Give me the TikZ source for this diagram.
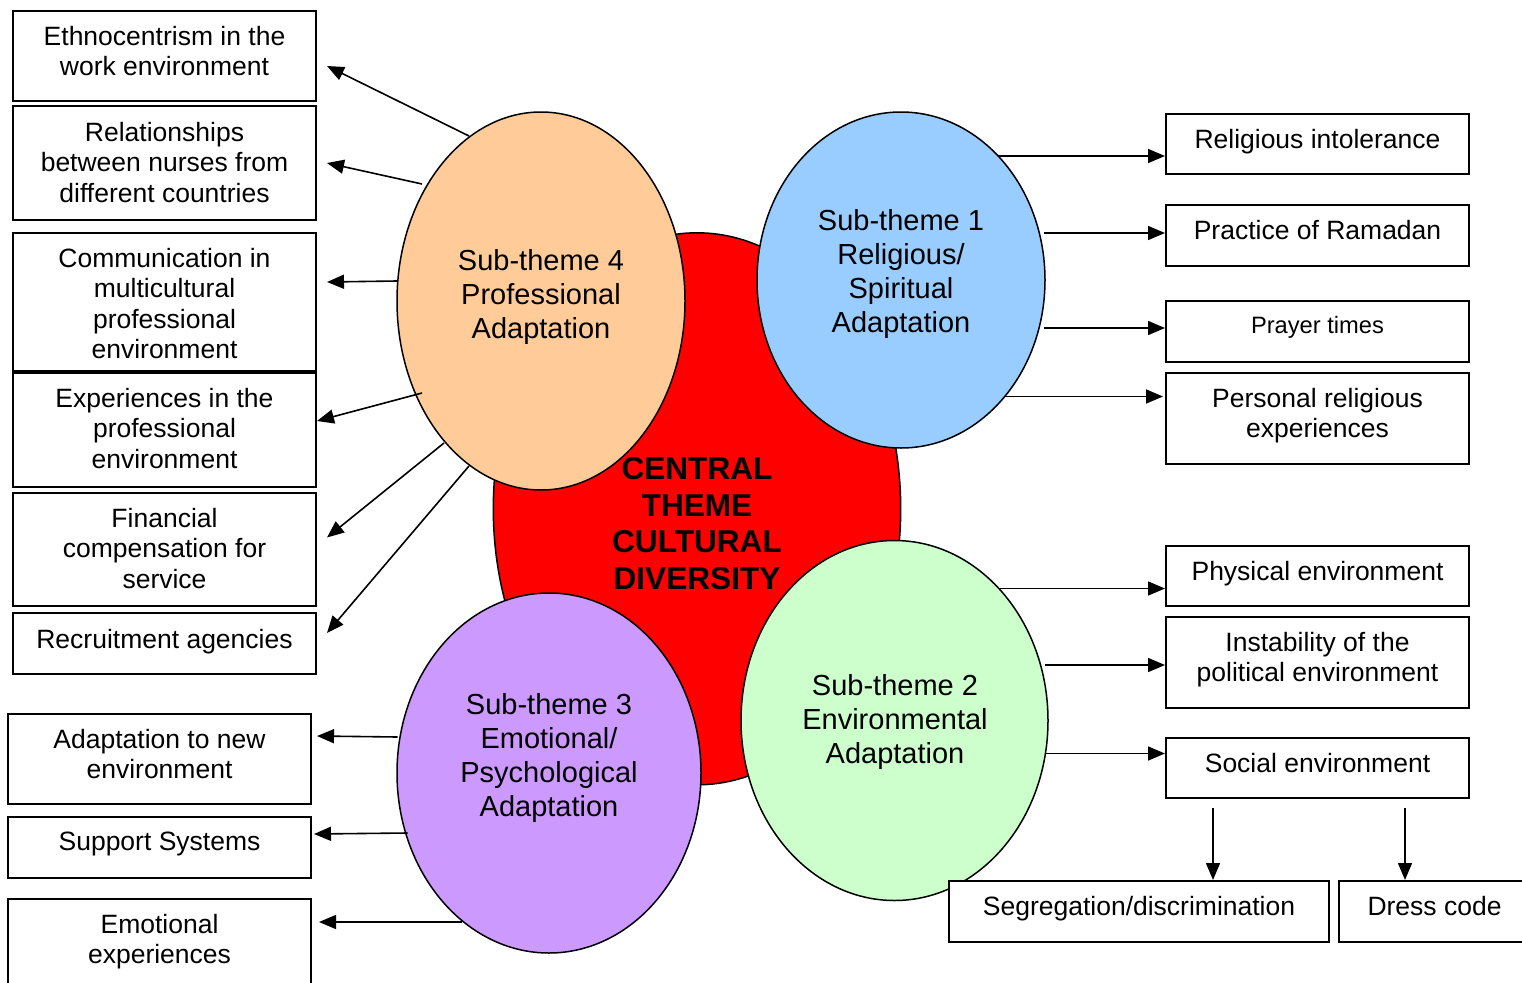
\documentclass[tikz,border=0pt]{standalone}
\usepackage{fontspec}
\setmainfont{Liberation Sans}
\usetikzlibrary{shapes.geometric,arrows.meta,calc}
\definecolor{cred}{HTML}{FF0000}
\definecolor{corange}{HTML}{FFCC99}
\definecolor{cblue}{HTML}{99CCFF}
\definecolor{cpurple}{HTML}{CC99FF}
\definecolor{cgreen}{HTML}{CCFFCC}
\tikzset{
  oval/.style={ellipse, draw=black, line width=1.5pt, inner sep=0pt},
  boxst/.style={draw=black, line width=2pt, fill=white, rectangle, inner sep=0pt, anchor=north west},
  boxtxt/.style={anchor=north, inner sep=0pt, align=center, font=\fontsize{26.5}{30.4}\selectfont},
  subtxt/.style={anchor=north, inner sep=0pt, align=center, font=\fontsize{29}{34}\selectfont},
  arr/.style={line width=1.6pt, -{Triangle[length=17pt,width=14pt]}}
}
\begin{document}
\begin{tikzpicture}[x=1pt,y=-1pt]
\useasboundingbox (0,0) rectangle (1522,982);
\clip (0,0) rectangle (1522,982);
% ellipses
\node[oval, fill=cred, minimum width=407.4pt, minimum height=552pt] (ct) at (697,508.8) {};
\node[oval, fill=corange, minimum width=288pt, minimum height=378pt] (e4) at (541,301) {};
\node[oval, fill=cblue, minimum width=288pt, minimum height=336pt] (e1) at (901,280) {};
\node[oval, fill=cpurple, minimum width=304pt, minimum height=360pt] (e3) at (549,773) {};
\node[oval, fill=cgreen, minimum width=307pt, minimum height=360pt] (e2) at (894.5,720.5) {};
% ellipse texts
\node[subtxt] (t4) at (541,249) {Sub-theme 4\\Professional\\Adaptation};
\node[subtxt] (t1) at (901,209) {Sub-theme 1\\Religious/\\Spiritual\\Adaptation};
\node[subtxt] (t3) at (549,693) {Sub-theme 3\\Emotional/\\Psychological\\Adaptation};
\node[subtxt] (t2) at (895,674) {Sub-theme 2\\Environmental\\Adaptation};
\node[anchor=north, inner sep=0pt, align=center, font=\fontsize{31.6}{36.7}\selectfont\bfseries] (tc) at (697,457.3) {CENTRAL\\THEME\\CULTURAL\\DIVERSITY};
% left boxes
\node[boxst, minimum width=303pt, minimum height=90pt] (b1) at (12,10) {};
\node[boxst, minimum width=303pt, minimum height=114pt] (b2) at (12,105) {};
\node[boxst, minimum width=303pt, minimum height=138pt] (b3) at (12,232) {};
\node[boxst, minimum width=303pt, minimum height=114pt] (b4) at (12,372) {};
\node[boxst, minimum width=303pt, minimum height=113pt] (b5) at (12,492) {};
\node[boxst, minimum width=303pt, minimum height=61pt] (b6) at (12,612) {};
\node[boxst, minimum width=303pt, minimum height=90pt] (b7) at (7,713) {};
\node[boxst, minimum width=303pt, minimum height=61pt] (b8) at (7,816) {};
\node[boxst, minimum width=303pt, minimum height=110pt] (b9) at (7,898) {};
\node[boxtxt] at ($(b1.north)+(0,16)$) {Ethnocentrism in the\\work environment};
\node[boxtxt] at ($(b2.north)+(0,17)$) {Relationships\\between nurses from\\different countries};
\node[boxtxt] at ($(b3.north)+(0,16)$) {Communication in\\multicultural\\professional\\environment};
\node[boxtxt] at ($(b4.north)+(0,16)$) {Experiences in the\\professional\\environment};
\node[boxtxt] at ($(b5.north)+(0,16)$) {Financial\\compensation for\\service};
\node[boxtxt] at ($(b6.north)+(0,17)$) {Recruitment agencies};
\node[boxtxt] at ($(b7.north)+(0,16)$) {Adaptation to new\\environment};
\node[boxtxt] at ($(b8.north)+(0,16)$) {Support Systems};
\node[boxtxt] at ($(b9.north)+(0,16)$) {Emotional\\experiences};
% right boxes
\node[boxst, minimum width=303pt, minimum height=60pt] (r1) at (1165,113) {};
\node[boxst, minimum width=303pt, minimum height=61pt] (r2) at (1165,204) {};
\node[boxst, minimum width=303pt, minimum height=61pt] (r3) at (1165,300) {};
\node[boxst, minimum width=303pt, minimum height=91pt] (r4) at (1165,372) {};
\node[boxst, minimum width=303pt, minimum height=60pt] (g1) at (1165,545) {};
\node[boxst, minimum width=303pt, minimum height=91pt] (g2) at (1165,616) {};
\node[boxst, minimum width=303pt, minimum height=60pt] (g3) at (1165,737) {};
\node[boxst, minimum width=380pt, minimum height=61pt] (s1) at (948,880) {};
\node[boxst, minimum width=191pt, minimum height=61pt] (s2) at (1338,880) {};
\node[boxtxt] at ($(r1.north)+(0,16)$) {Religious intolerance};
\node[boxtxt] at ($(r2.north)+(0,16)$) {Practice of Ramadan};
\node[boxtxt, font=\fontsize{23.7}{28}\selectfont] at ($(r3.north)+(0,16)$) {Prayer times};
\node[boxtxt] at ($(r4.north)+(0,16)$) {Personal religious\\experiences};
\node[boxtxt] at ($(g1.north)+(0,16)$) {Physical environment};
\node[boxtxt] at ($(g2.north)+(0,16)$) {Instability of the\\political environment};
\node[boxtxt] at ($(g3.north)+(0,16)$) {Social environment};
\node[boxtxt] at ($(s1.north)+(0,16)$) {Segregation/discrimination};
\node[boxtxt] at ($(s2.north)+(0,16)$) {Dress code};
% arrow start coordinates
\coordinate (p1) at (469,136);
\coordinate (p2) at (422,184);
\coordinate (p3) at (397,281);
\coordinate (p4) at (422,393);
\coordinate (p5) at (444,443);
\coordinate (p6) at (469,466);
\coordinate (q1) at (397.5,737);
\coordinate (q2) at (407.5,833);
\coordinate (q3) at (462,922);
\coordinate (u1) at (998,156);
\coordinate (u2) at (1044,233);
\coordinate (u3) at (1044,328);
\coordinate (u4) at (1004,396.5);
\coordinate (v1) at (998,588.5);
\coordinate (v2) at (1045,665);
\coordinate (v3) at (1045,753.5);
\coordinate (w1) at (1213,808);
\coordinate (w2) at (1405,808);
% arrows
\draw[arr] (p1) -- ($(b1.east)+(10,10)$);
\draw[arr] (p2) -- ($(b2.east)+(10,0)$);
\draw[arr] (p3) -- ($(b3.east)+(10,-20)$);
\draw[arr] (p4) -- ($(b4.east)+(0,-9)$);
\draw[arr] (p5) -- ($(b5.east)+(10,-12)$);
\draw[arr] (p6) -- ($(b6.east)+(10,-10.5)$);
\draw[arr] (q1) -- ($(b7.east)+(5,-23)$);
\draw[arr] (q2) -- ($(b8.east)+(2,-13.5)$);
\draw[arr] (q3) -- ($(b9.north east)+(7,24)$);
\draw[arr] (u1) -- (u1 -| r1.west);
\draw[arr] (u2) -- (u2 -| r2.west);
\draw[arr] (u3) -- (u3 -| r3.west);
\draw[arr] (u4) -- ($(u4 -| r4.west)+(-2,0)$);
\draw[arr] (v1) -- (v1 -| g1.west);
\draw[arr] (v2) -- (v2 -| g2.west);
\draw[arr] (v3) -- (v3 -| g3.west);
\draw[arr] (w1) -- (w1 |- s1.north);
\draw[arr] (w2) -- (w2 |- s2.north);
\end{tikzpicture}
\end{document}
